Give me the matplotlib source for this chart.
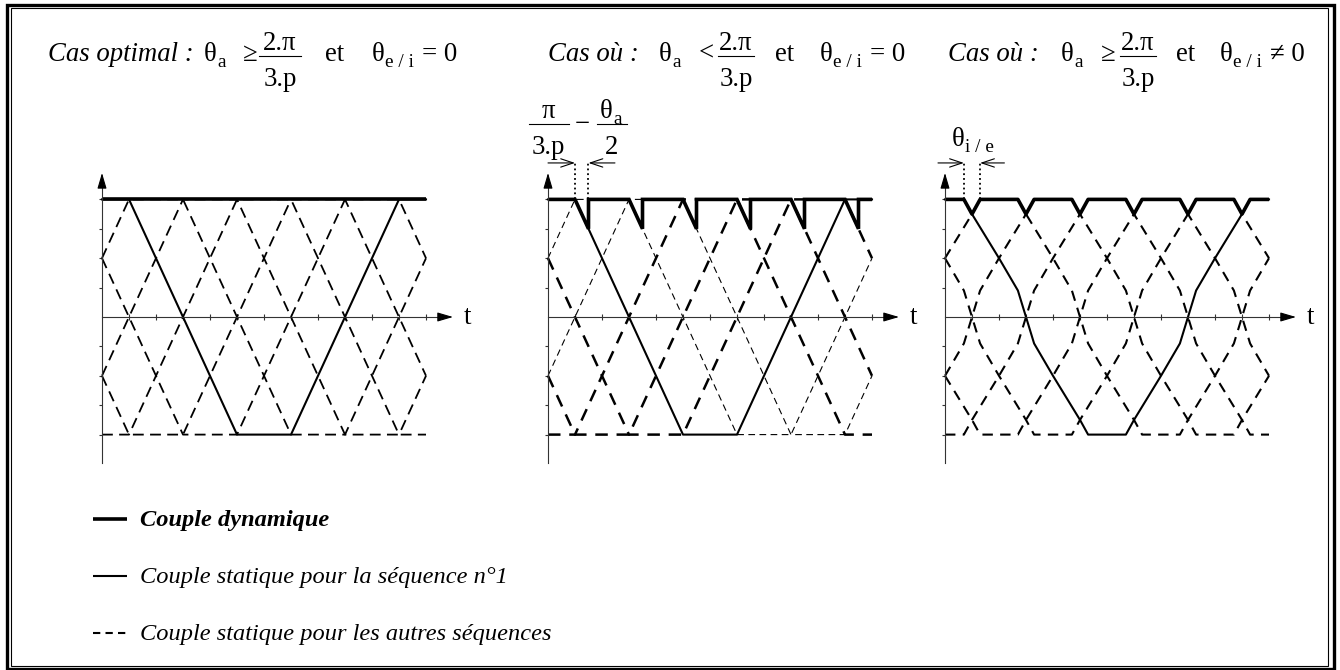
import numpy as np
from matplotlib import pyplot as plt
from matplotlib.patches import Rectangle

plt.rcParams['font.family'] = ['Liberation Serif', 'DejaVu Serif']

W, H = 1340, 670
F = 19.3   # title / annotation size (pt)
FL = 17.6  # legend size (pt)

# static torque of one sequence over one period (x in steps, y in torque units)
PERIOD = 12
shifts = [0, 2, 4, 6, 8, 10]
trap_u = [0, 1, 5, 7, 11, 12]
trap_y = [4, 4, -4, -4, 4, 4]
# third case: shortened plateaus, steeper around the zero crossing
soft_u = [0, 0.7, 1, 2, 2.7, 3.3, 4, 5, 5.3, 6.7, 7, 8, 8.7, 9.3, 10, 11, 11.3, 12]
soft_y = [4, 4, 3.5, 2, 0.9, -0.9, -2, -3.5, -4, -4, -3.5, -2, -0.9, 0.9, 2, 3.5, 4, 4]

# dynamic torque
dyn1_x = [0, 12]
dyn1_y = [4, 4]
notch_x = [1, 3, 5, 7, 9, 11]
notch2_w, notch2_bot = 0.5, 3.0
notch3_w, notch3_bot = 0.3, 3.5

# which dashed sequences are drawn heavy in the second case
heavy2 = [6, 8, 10]

# pixel geometry of the panels
UX, UY, Y0 = 27.0, 29.4, 317
origins = [102, 548, 945]


def wave(u_knots, y_knots, shift, x_end=12):
    xs = {0.0, float(x_end)}
    for u in u_knots:
        v = (u + shift) % PERIOD
        if 0 < v < x_end:
            xs.add(v)
    xs = np.array(sorted(xs))
    ys = np.interp((xs - shift) % PERIOD, u_knots, y_knots)
    if shift == 0:
        ys[-1] = y_knots[-1]
    return xs, ys


def notch2():
    x, y = [0], [4]
    for n in notch_x:
        x += [n, n + notch2_w, n + notch2_w]
        y += [4, notch2_bot, 4]
    return x + [12], y + [4]


def notch3():
    x, y = [0], [4]
    for n in notch_x:
        x += [n - notch3_w, n, n + notch3_w]
        y += [4, notch3_bot, 4]
    return x + [12], y + [4]


fig = plt.figure(figsize=(W / 100, H / 100), dpi=100)
bg = fig.add_axes([0, 0, 1, 1])
bg.set_xlim(0, W)
bg.set_ylim(H, 0)
bg.axis('off')

# double frame with shadow
bg.add_patch(Rectangle((7, 4.5), 1327, 664, fill=False, lw=2.4, ec='k', clip_on=False))
bg.add_patch(Rectangle((10.5, 8), 1317.5, 657.5, fill=False, lw=0.8, ec='k', clip_on=False))


def put(x, y, s, size=F, **kw):
    bg.text(x, y, s, fontsize=size, va='baseline', **kw)


def theta(x, y, sub, size=F):
    put(x, y, 'θ', size)
    put(x + 13, y + 6, sub, size * 0.72)


def frac(xc, bar_y, num, den, half, size=F):
    put(xc, bar_y - 6, num, size, ha='center')
    put(xc, bar_y + 30, den, size, ha='center')
    bg.plot([xc - half, xc + half], [bar_y, bar_y], color='k', lw=0.8)


YB, BAR = 61, 56
titles = [
    (48, 'Cas optimal :', 204, '≥', 243, 280, 21, 325, 372, '= 0', 422),
    (548, 'Cas où :', 659, '<', 699, 736, 18, 775, 820, '= 0', 870),
    (948, 'Cas où :', 1061, '≥', 1101, 1138, 18, 1176, 1220, '≠ 0', 1270),
]
for xc, lab, xt, rel, xr, xf, hw, xe, xt2, end, xend in titles:
    put(xc, YB, lab, style='italic')
    theta(xt, YB, 'a')
    put(xr, YB, rel)
    frac(xf, BAR, '2.π', '3.p', hw)
    put(xe, YB, 'et')
    theta(xt2, YB, 'e / i')
    put(xend, YB, end)

# annotations above panels 2 and 3
frac(548.5, 124, 'π', '3.p', 20)
put(575, 131, '−')
frac(612, 124, '', '2', 15)
theta(600, 118, 'a')
theta(952, 146, 'i / e')


def panel(x0):
    xmin, xmax, ymin, ymax = -2, 15, -6, 6.5
    left = (x0 + xmin * UX) / W
    bottom = (H - (Y0 - ymin * UY)) / H
    ax = fig.add_axes([left, bottom, (xmax - xmin) * UX / W, (ymax - ymin) * UY / H])
    ax.set_xlim(xmin, xmax)
    ax.set_ylim(ymin, ymax)
    ax.patch.set_visible(False)
    for s in ['top', 'right']:
        ax.spines[s].set_visible(False)
    ax.spines['left'].set_position(('data', 0))
    ax.spines['bottom'].set_position(('data', 0))
    ax.spines['left'].set_bounds(-4.97, 4.6)
    ax.spines['bottom'].set_bounds(0, 12.7)
    for s in ['left', 'bottom']:
        ax.spines[s].set_color('#333333')
        ax.spines[s].set_linewidth(0.8)
    ax.set_xticks(range(1, 13))
    ax.set_yticks([-4, -3, -2, -1, 1, 2, 3, 4])
    ax.set_xticklabels([])
    ax.set_yticklabels([])
    ax.tick_params(axis='x', direction='inout', length=4, width=0.8, color='#333333')
    ax.tick_params(axis='y', direction='out', length=2.5, width=0.8, color='#333333')
    ap = dict(arrowstyle='-|>,head_length=0.95,head_width=0.28', color='k', lw=0.8,
              shrinkA=0, shrinkB=0)
    ax.annotate('', xy=(13.0, 0), xytext=(12.5, 0), arrowprops=ap)
    ax.annotate('', xy=(0, 4.9), xytext=(0, 4.5), arrowprops=ap)
    ax.text(13.55, 0, 't', fontsize=F, ha='center', va='center')
    return ax


def dim_marks(ax, xa, xb, y=5.24, left_from=None, right_from=None):
    for xv in (xa, xb):
        ax.plot([xv, xv], [4, y], color='k', lw=1.3, ls=':')
    op = dict(arrowstyle='->,head_length=0.9,head_width=0.3', color='k', lw=0.8,
              shrinkA=0, shrinkB=0)
    ax.annotate('', xy=(xa, y), xytext=(left_from, y), arrowprops=op)
    ax.annotate('', xy=(xb, y), xytext=(right_from, y), arrowprops=op)


# panel 1
ax1 = panel(origins[0])
for s in shifts[1:]:
    x, y = wave(trap_u, trap_y, s)
    ax1.plot(x, y, color='k', lw=1.3, dashes=(6, 3.5))
x, y = wave(trap_u, trap_y, 0)
ax1.plot(x, y, color='k', lw=1.5)
ax1.plot(dyn1_x, dyn1_y, color='k', lw=2.6, solid_capstyle='butt')

# panel 2
ax2 = panel(origins[1])
for s in shifts[1:]:
    x, y = wave(trap_u, trap_y, s)
    if s in heavy2:
        ax2.plot(x, y, color='k', lw=1.8, dashes=(5, 3.5))
    else:
        ax2.plot(x, y, color='k', lw=0.8, dashes=(6, 4))
x, y = wave(trap_u, trap_y, 0)
ax2.plot(x, y, color='k', lw=1.5)
x, y = notch2()
ax2.plot(x, y, color='k', lw=2.6, solid_capstyle='butt', solid_joinstyle='miter')
dim_marks(ax2, notch_x[0], notch_x[0] + notch2_w, left_from=0.0, right_from=2.48)

# panel 3
ax3 = panel(origins[2])
for s in shifts[1:]:
    x, y = wave(soft_u, soft_y, s)
    ax3.plot(x, y, color='k', lw=1.5, dashes=(5, 3.5))
x, y = wave(soft_u, soft_y, 0)
ax3.plot(x, y, color='k', lw=1.5)
x, y = notch3()
ax3.plot(x, y, color='k', lw=2.6, solid_capstyle='butt')
dim_marks(ax3, notch_x[0] - notch3_w, notch_x[0] + notch3_w, left_from=-0.26, right_from=2.2)

# legend
legend_items = [
    ('Couple dynamique', dict(lw=2.6), 'bold'),
    ('Couple statique pour la séquence n°1', dict(lw=1.5), 'normal'),
    ('Couple statique pour les autres séquences', dict(lw=1.5, dashes=(3.5, 2.5)), 'normal'),
]
for i, (lab, style, wgt) in enumerate(legend_items):
    ly = 519 + 57 * i
    bg.plot([93, 127], [ly, ly], color='k', solid_capstyle='butt', **style)
    put(140, ly + 7, lab, FL, style='italic', weight=wgt)

fig.savefig('out.png', dpi=100)
